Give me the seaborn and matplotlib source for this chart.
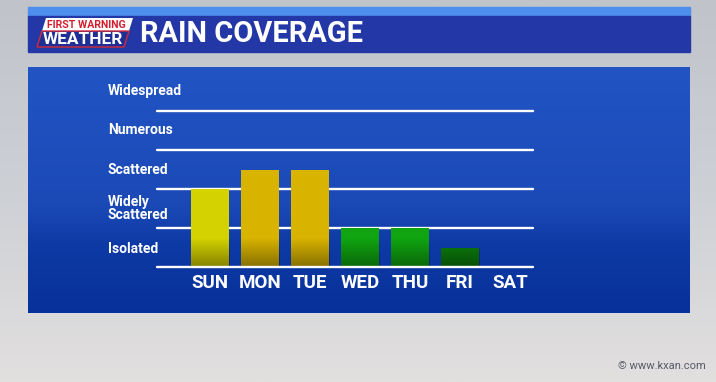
import numpy as np
import pandas as pd
import matplotlib
matplotlib.use("Agg")
import matplotlib.pyplot as plt
import seaborn as sns
from matplotlib.patches import Rectangle, Polygon
from matplotlib.colors import LinearSegmentedColormap

# ---- data ----
days = ["SUN", "MON", "TUE", "WED", "THU", "FRI", "SAT"]
coverage = [2.0, 2.5, 2.5, 1.0, 1.0, 0.5, 0.0]
bar_colors = ["#d4d200", "#d8b300", "#d8b300", "#10a510", "#10a510", "#0c800c", "#0c800c"]
level_labels = ["Isolated", "Widely\nScattered", "Scattered", "Numerous", "Widespread"]
level_pos = [0.45, 1.5, 2.5, 3.5, 4.5]
grid_levels = [0, 1, 2, 3, 4]
title = "RAIN COVERAGE"
logo_top = "FIRST WARNING"
logo_bottom = "WEATHER"
watermark = "© www.kxan.com"

sns.set_theme(style="white")
plt.rcParams["font.family"] = ["Roboto", "DejaVu Sans"]

W, H = 716, 382
fig = plt.figure(figsize=(W / 100, H / 100), dpi=100)

# ---- background layer in pixel coordinates ----
bg = fig.add_axes([0, 0, 1, 1])
grad = np.linspace(0, 1, 256)[:, None]
cmap_bg = LinearSegmentedColormap.from_list("bg", [(0, "#c0c3ca"), (0.5, "#cdd0d5"), (1, "#e2dfdf")])
bg.imshow(grad, extent=[0, W, H, 0], cmap=cmap_bg, aspect="auto", zorder=0)

cmap_panel = LinearSegmentedColormap.from_list(
    "panel", [(0, "#2254c4"), (0.55, "#1b4ab7"), (0.72, "#0e3aa5"), (1, "#08309a")])
bg.imshow(grad, extent=[28, 690, 313, 67], cmap=cmap_panel, aspect="auto", zorder=1)

bg.add_patch(Rectangle((28, 7), 662, 9, color="#4e8eec", zorder=2))
bg.add_patch(Rectangle((28, 16), 662, 36, color="#2337a6", zorder=2))
bg.add_patch(Polygon([(46, 18), (133, 18), (129, 31), (42, 31)], closed=True,
                     facecolor="white", edgecolor="none", zorder=3))
bg.add_patch(Polygon([(42, 31), (129, 31), (124, 47), (37, 47)], closed=True,
                     facecolor="#1f2f96", edgecolor="#d42a38", lw=1.0, zorder=3))
bg.text(86, 25, logo_top, ha="center", va="center", color="#d21e2e",
        fontsize=7.6, weight="bold", zorder=4)
bg.text(83, 39.5, logo_bottom, ha="center", va="center", color="white",
        fontsize=12.4, weight="bold", zorder=4)
bg.text(140, 34, title, ha="left", va="center", color="white",
        fontsize=20.9, weight="bold", zorder=4)
bg.text(706, 366, watermark, ha="right", va="center", color="#565b66",
        fontsize=8, zorder=4)
bg.set_xlim(0, W)
bg.set_ylim(H, 0)
bg.axis("off")

# ---- main chart ----
ax = fig.add_axes([157 / W, 1 - 267 / H, 376 / W, 187 / H])
ax.patch.set_alpha(0)
df = pd.DataFrame({"day": days, "coverage": coverage})
sns.barplot(data=df, x="day", y="coverage", hue="day", palette=bar_colors,
            legend=False, width=0.77, saturation=1, linewidth=0, ax=ax, zorder=3)

shade = np.zeros((256, 1, 4))
shade[..., 3] = np.linspace(0, 0.38, 256)[:, None]
for p in list(ax.patches):
    h = p.get_height()
    if h > 0:
        x0 = p.get_x()
        im = ax.imshow(shade, extent=[x0, x0 + p.get_width(), 0, 0.72],
                       aspect="auto", zorder=3.5)
        im.set_clip_path(p)

for g in grid_levels:
    ax.axhline(g, color="white", lw=1.7, zorder=2 if g > 0 else 4, clip_on=False)

for lab, pos in zip(level_labels, level_pos):
    ax.text(-2.04, pos, lab, ha="left", va="center", color="white", fontsize=10,
            weight="bold", clip_on=False, linespacing=0.95)

ax.set_xlim(-1.06, 6.46)
ax.set_ylim(0, 187 / 39)
ax.set_xlabel("")
ax.set_ylabel("")
ax.set_yticks([])
ax.tick_params(axis="x", length=0, pad=5, labelsize=13.5, labelcolor="white")
for t in ax.get_xticklabels():
    t.set_weight("bold")
for s in ax.spines.values():
    s.set_visible(False)

fig.savefig("out.png", dpi=100)
